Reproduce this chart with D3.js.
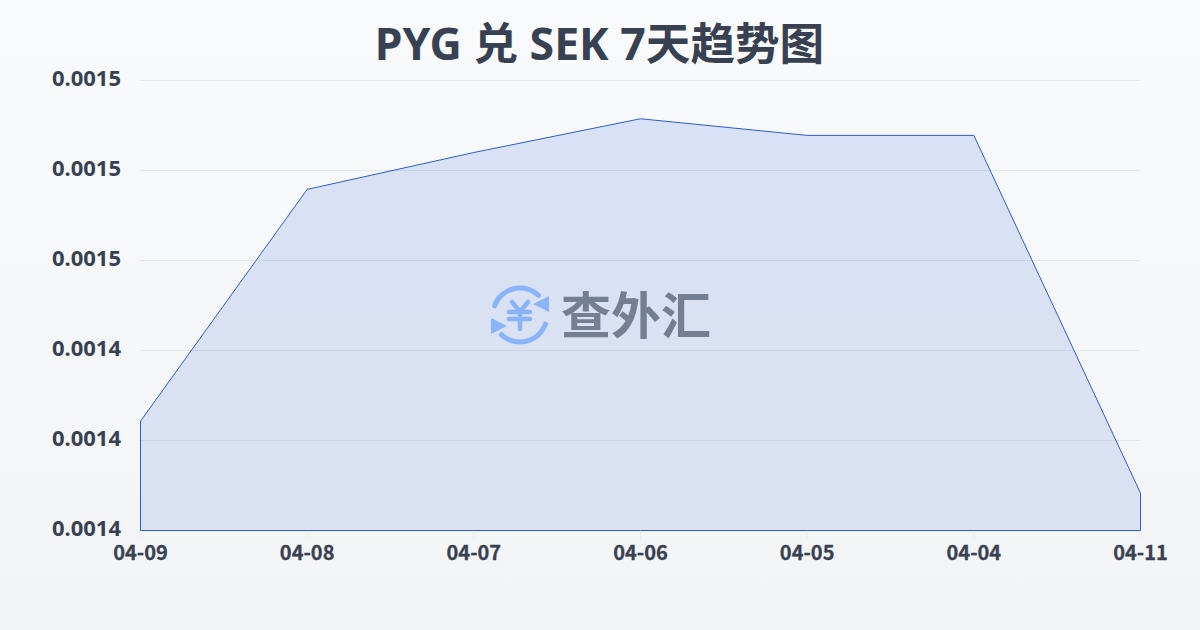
<!DOCTYPE html>
<html>
<head>
<meta charset="utf-8">
<script src="https://cdn.jsdelivr.net/npm/d3@7"></script>
<style>
    html, body { margin: 0; padding: 0; }
    body { width: 1200px; height: 630px; overflow: hidden; }
    text { font-family: "Noto Sans", "Noto Sans CJK SC", sans-serif; }
</style>
</head>
<body>
<svg id="chart" width="1200" height="630"></svg>
<script>
const titleText = "PYG 兑 SEK 7天趋势图";
const dates = ["04-09", "04-08", "04-07", "04-06", "04-05", "04-04", "04-11"];
const rates = [0.0014243, 0.0014758, 0.001484, 0.0014915, 0.0014878, 0.0014878, 0.0014083];
const yTicks = [0.0014, 0.00142, 0.00144, 0.00146, 0.00148, 0.0015];

const margin = {top: 80, right: 60, bottom: 100, left: 140};
const width = 1200, height = 630;

const svg = d3.select("#chart");
const defs = svg.append("defs");

const bg = defs.append("linearGradient").attr("id", "bg")
    .attr("x1", 0).attr("y1", 0).attr("x2", 0).attr("y2", 1);
bg.append("stop").attr("offset", "0%").attr("stop-color", "#f9fafc");
bg.append("stop").attr("offset", "100%").attr("stop-color", "#f3f4f6");

const fill = defs.append("linearGradient").attr("id", "areaFill")
    .attr("x1", 0).attr("y1", 0).attr("x2", 0).attr("y2", 1);
fill.append("stop").attr("offset", "0%").attr("stop-color", "#1e5ad8").attr("stop-opacity", 0.145);
fill.append("stop").attr("offset", "100%").attr("stop-color", "#1e50c8").attr("stop-opacity", 0.12);

svg.append("rect").attr("width", width).attr("height", height).attr("fill", "url(#bg)");

const x = d3.scalePoint().domain(dates).range([margin.left, width - margin.right]);
const y = d3.scaleLinear().domain([0.0014, 0.0015]).range([height - margin.bottom, margin.top]);

/* grid lines */
svg.append("g")
    .attr("transform", "translate(" + margin.left + ",0)")
    .call(d3.axisLeft(y).tickValues(yTicks).tickSize(-(width - margin.left - margin.right)).tickFormat(""))
    .call(g => g.select(".domain").remove())
    .call(g => g.selectAll("line").attr("stroke", "#e5e7eb").attr("stroke-width", 1));

/* y labels */
svg.append("g")
    .attr("transform", "translate(" + margin.left + ",0)")
    .call(d3.axisLeft(y).tickValues(yTicks).tickSize(0).tickPadding(19).tickFormat(d3.format(".4f")))
    .call(g => g.select(".domain").remove())
    .call(g => g.selectAll("text")
        .attr("fill", "#374151").attr("font-size", 22).attr("font-weight", 700)
        .attr("dy", "0.24em"));

/* x labels */
svg.append("g")
    .attr("transform", "translate(0," + (height - margin.bottom) + ")")
    .call(d3.axisBottom(x).tickSize(10).tickPadding(5.5))
    .call(g => g.select(".domain").remove())
    .call(g => g.selectAll("line").attr("stroke", "#eceef0"))
    .call(g => g.selectAll("text")
        .attr("fill", "#374151").attr("stroke", "#374151").attr("stroke-width", 0.3)
        .attr("font-size", 20).attr("font-weight", 700)
        .style("font-family", '"Noto Sans CJK SC", sans-serif'));

/* area */
const area = d3.area()
    .x((d, i) => x(dates[i]))
    .y0(y(0.0014))
    .y1(d => y(d));

svg.append("path")
    .datum(rates)
    .attr("transform", "translate(0.5,0.5)")
    .attr("d", area)
    .attr("fill", "url(#areaFill)")
    .attr("stroke", "#2a5dcf")
    .attr("stroke-width", 1);

/* watermark */
const mark = svg.append("g").attr("transform", "translate(520,315)");
const markBlue = "#8ab4f8";
const ring = d3.arc().innerRadius(24.5).outerRadius(29.5).cornerRadius(2.4);
mark.append("path").attr("d", ring({startAngle: -1.32, endAngle: 0.85})).attr("fill", markBlue);
mark.append("path").attr("d", ring({startAngle: 1.82, endAngle: 3.99})).attr("fill", markBlue);
mark.append("path").attr("d", "M29,-19 L29,-3 L13,-11 Z").attr("fill", markBlue);
mark.append("path").attr("d", "M-29,19 L-29,3 L-13,11 Z").attr("fill", markBlue);
mark.append("path")
    .attr("d", "M-8,-13 L0,-3 L8,-13 M-11,-3 H10 M-11,4 H10 M0,-3 V14")
    .attr("fill", "none").attr("stroke", markBlue).attr("stroke-width", 4.5).attr("stroke-linecap", "round");

svg.append("text")
    .attr("x", 636).attr("y", 334)
    .attr("text-anchor", "middle")
    .attr("font-size", 50).attr("font-weight", 700)
    .attr("fill", "#757f93")
    .style("font-family", '"Noto Sans CJK SC", sans-serif')
    .text("查外汇");

/* title */
svg.append("text")
    .attr("x", 599.5).attr("y", 60)
    .attr("text-anchor", "middle")
    .attr("font-size", 44.6).attr("font-weight", 700)
    .attr("fill", "#374151")
    .text(titleText);
</script>
</body>
</html>
